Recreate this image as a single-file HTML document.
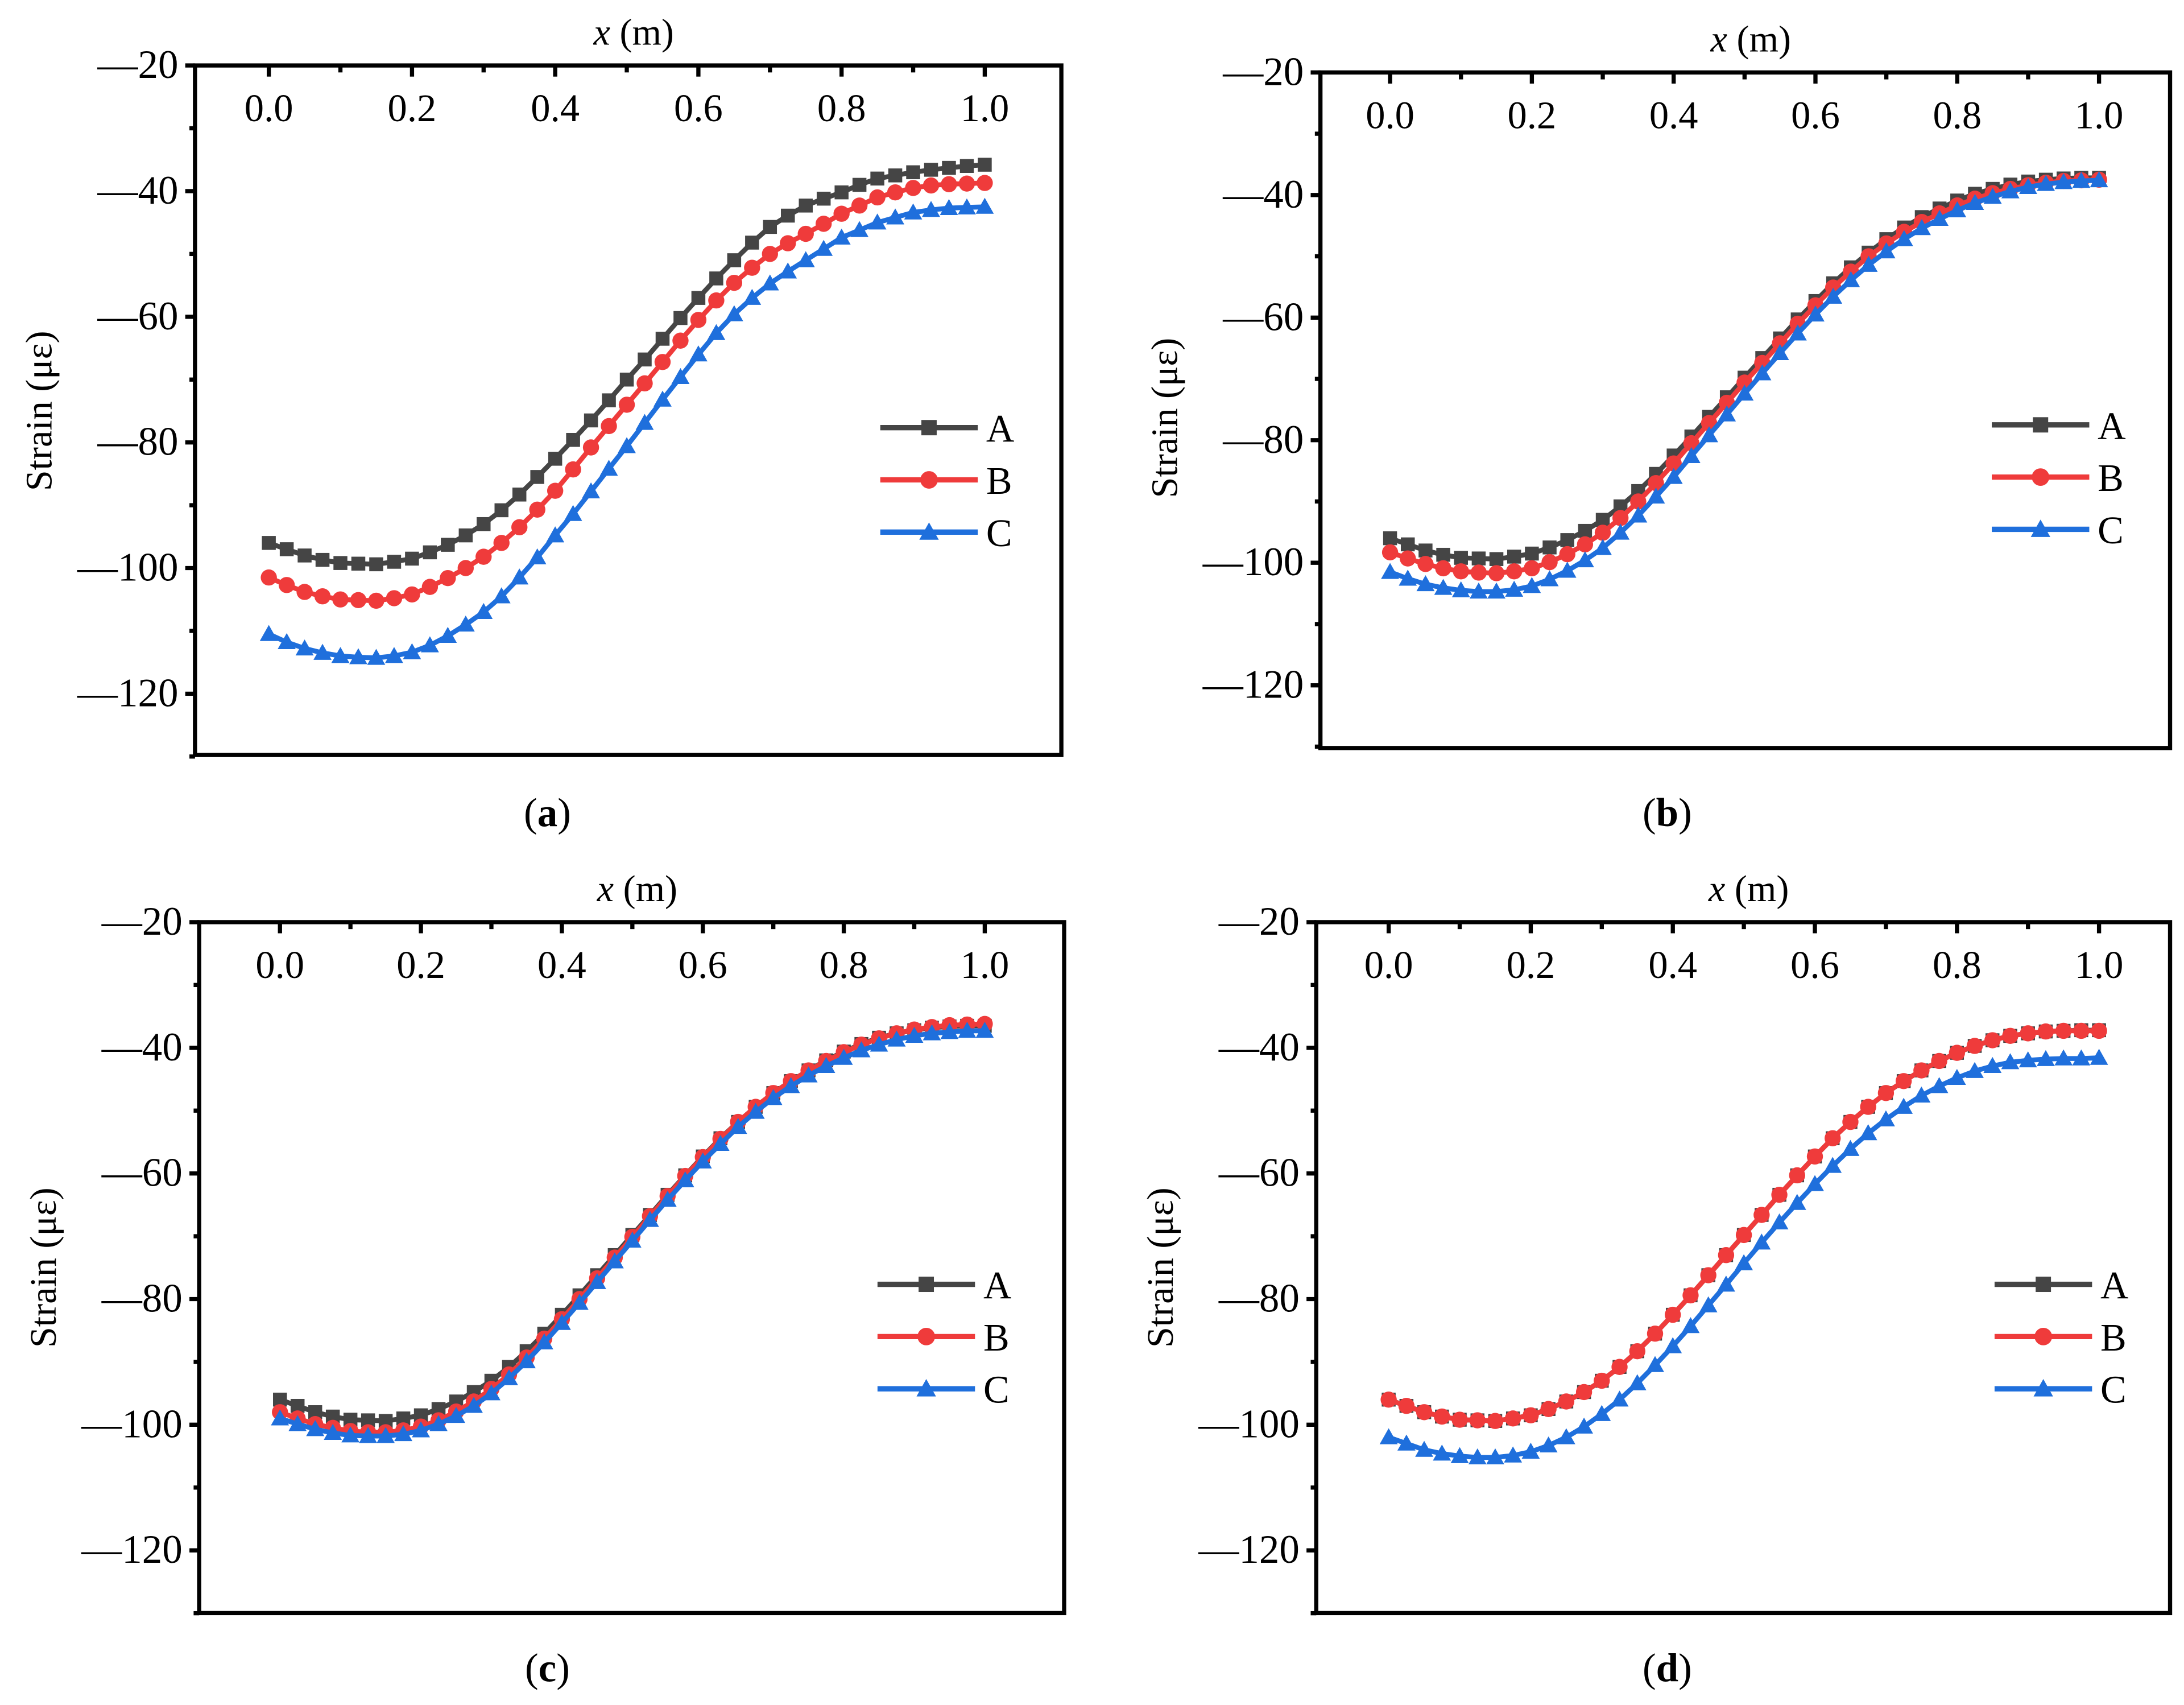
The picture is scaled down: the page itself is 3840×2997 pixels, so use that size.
<!DOCTYPE html>
<html><head><meta charset="utf-8"><style>
html,body{margin:0;padding:0;background:#fff}
svg{display:block}
text{font-family:"Liberation Serif",serif;fill:#000}
</style></head><body>
<svg id="fig" width="3840" height="2997" viewBox="0 0 1568 1224" preserveAspectRatio="none" xmlns="http://www.w3.org/2000/svg"></svg>
<script>
const xs = [0,0.025,0.05,0.075,0.1,0.125,0.15,0.175,0.2,0.225,0.25,0.275,0.3,0.325,0.35,0.375,0.4,0.425,0.45,0.475,0.5,0.525,0.55,0.575,0.6,0.625,0.65,0.675,0.7,0.725,0.75,0.775,0.8,0.825,0.85,0.875,0.9,0.925,0.95,0.975,1];
const yTicks = [-20,-40,-60,-80,-100,-120];
const xTicks = [0,0.2,0.4,0.6,0.8,1.0];
const seriesNames = ["A","B","C"];
const aA = [-96,-97,-98,-98.7,-99.2,-99.3,-99.4,-99,-98.5,-97.5,-96.3,-94.8,-93,-90.8,-88.3,-85.5,-82.6,-79.6,-76.5,-73.3,-70,-66.8,-63.5,-60.2,-57,-53.9,-51,-48.2,-45.7,-43.9,-42.3,-41.2,-40.2,-39,-38,-37.5,-37,-36.6,-36.3,-36,-35.8];
const aB = [-101.5,-102.7,-103.8,-104.5,-105,-105.1,-105.2,-104.8,-104.2,-103,-101.6,-100,-98.2,-96,-93.5,-90.7,-87.7,-84.3,-80.8,-77.4,-74,-70.6,-67.2,-63.8,-60.5,-57.4,-54.6,-52.2,-50,-48.3,-46.8,-45.2,-43.6,-42.3,-41,-40.2,-39.5,-39.1,-38.9,-38.8,-38.7];
const aC = [-110.5,-111.8,-112.8,-113.5,-114,-114.2,-114.3,-114,-113.4,-112.3,-110.8,-109,-107,-104.5,-101.5,-98.3,-94.8,-91.4,-87.8,-84.2,-80.6,-76.9,-73.2,-69.6,-66,-62.6,-59.6,-57,-54.7,-52.8,-51,-49.2,-47.4,-46.2,-45,-44.2,-43.4,-43,-42.7,-42.6,-42.5];
const bA = [-96,-97,-98,-98.7,-99.2,-99.3,-99.4,-99,-98.5,-97.5,-96.3,-94.8,-93,-90.8,-88.3,-85.5,-82.5,-79.4,-76.2,-73,-69.8,-66.6,-63.4,-60.3,-57.3,-54.4,-51.8,-49.4,-47.2,-45.3,-43.6,-42.2,-40.9,-39.8,-39,-38.3,-37.8,-37.5,-37.3,-37.2,-37.2];
const bB = [-98.3,-99.3,-100.2,-100.9,-101.4,-101.6,-101.7,-101.4,-100.9,-99.9,-98.6,-97,-95.1,-92.7,-90,-87,-83.8,-80.5,-77.2,-73.9,-70.6,-67.4,-64.2,-61,-58,-55.1,-52.5,-50,-47.9,-46,-44.4,-43,-41.7,-40.6,-39.7,-39,-38.4,-38,-37.7,-37.6,-37.5];
const bC = [-101.5,-102.6,-103.5,-104.1,-104.5,-104.7,-104.7,-104.4,-103.8,-102.7,-101.3,-99.6,-97.6,-95.1,-92.3,-89.2,-86,-82.6,-79.2,-75.8,-72.4,-69.1,-65.8,-62.6,-59.5,-56.6,-53.9,-51.4,-49.2,-47.2,-45.4,-43.9,-42.5,-41.3,-40.3,-39.4,-38.7,-38.2,-37.9,-37.7,-37.6];
const cA = [-96,-97,-98,-98.7,-99.2,-99.3,-99.4,-99,-98.5,-97.5,-96.3,-94.8,-93,-90.8,-88.3,-85.5,-82.5,-79.4,-76.2,-73,-69.8,-66.6,-63.4,-60.3,-57.3,-54.4,-51.8,-49.4,-47.2,-45.3,-43.6,-42,-40.6,-39.4,-38.4,-37.7,-37.2,-36.8,-36.6,-36.5,-36.5];
const cB = [-98,-99,-99.9,-100.5,-101,-101.2,-101.2,-100.9,-100.3,-99.3,-97.9,-96.3,-94.3,-92,-89.3,-86.3,-83.2,-80,-76.7,-73.4,-70.1,-66.8,-63.6,-60.4,-57.4,-54.5,-51.8,-49.4,-47.2,-45.3,-43.6,-42.1,-40.7,-39.5,-38.5,-37.7,-37.1,-36.7,-36.4,-36.3,-36.2];
const cC = [-99,-99.9,-100.7,-101.3,-101.7,-101.8,-101.8,-101.5,-100.9,-99.9,-98.6,-97,-95,-92.6,-89.9,-86.9,-83.8,-80.6,-77.3,-74,-70.7,-67.4,-64.2,-61.1,-58.1,-55.3,-52.6,-50.2,-48,-46.1,-44.4,-42.9,-41.6,-40.4,-39.5,-38.7,-38.1,-37.7,-37.5,-37.3,-37.3];
const dA = [-96,-97,-98,-98.7,-99.2,-99.3,-99.4,-99,-98.5,-97.5,-96.3,-94.8,-93,-90.8,-88.3,-85.5,-82.5,-79.4,-76.2,-73,-69.8,-66.6,-63.4,-60.3,-57.3,-54.4,-51.8,-49.4,-47.2,-45.3,-43.6,-42.1,-40.8,-39.7,-38.8,-38.1,-37.7,-37.4,-37.3,-37.2,-37.2];
const dB = [-96,-97,-98,-98.7,-99.2,-99.3,-99.4,-99,-98.5,-97.5,-96.3,-94.8,-93,-90.8,-88.3,-85.5,-82.5,-79.4,-76.2,-73,-69.8,-66.6,-63.4,-60.3,-57.3,-54.4,-51.8,-49.4,-47.2,-45.3,-43.6,-42.1,-40.8,-39.7,-38.8,-38.1,-37.7,-37.4,-37.3,-37.3,-37.3];
const dC = [-102,-103,-104,-104.6,-105,-105.2,-105.2,-104.9,-104.3,-103.3,-102,-100.3,-98.3,-96,-93.4,-90.5,-87.5,-84.3,-81,-77.7,-74.3,-71,-67.8,-64.7,-61.7,-58.8,-56.1,-53.6,-51.4,-49.4,-47.6,-46.1,-44.8,-43.7,-42.9,-42.3,-42,-41.8,-41.7,-41.7,-41.6];

const NS = "http://www.w3.org/2000/svg";
const svg = document.getElementById("fig");
const colors = ["#454545","#ef3b3b","#1f6fdc"];
function el(tag, attrs, parent){const e=document.createElementNS(NS,tag);for(const k in attrs)e.setAttribute(k,attrs[k]);(parent||svg).appendChild(e);return e;}

const panels = [
 {id:"a",L:140,R:762,T:47,B:542,x0:193,x1:707,y20:47,y120:498,leg:[632,307],cap:[393,583],data:[aA,aB,aC]},
 {id:"b",L:948,R:1558,T:52,B:537,x0:998,x1:1507,y20:52,y120:492,leg:[1430,305],cap:[1197,583],data:[bA,bB,bC]},
 {id:"c",L:143,R:764,T:662,B:1158,x0:201,x1:707,y20:662,y120:1113,leg:[630,922],cap:[393,1197],data:[cA,cB,cC]},
 {id:"d",L:945,R:1558,T:662,B:1158,x0:997,x1:1507,y20:662,y120:1113,leg:[1432,922],cap:[1197,1197],data:[dA,dB,dC]}
];

function marker(g,k,x,y,s){
  let m;
  if(k===0){m=el("rect",{x:x-s,y:y-s,width:2*s,height:2*s,fill:colors[0]},g);}
  else if(k===1){m=el("circle",{cx:x,cy:y,r:s+0.8,fill:colors[1]},g);}
  else {m=el("polygon",{points:`${x},${y-s-1.5} ${x-s-1.5},${y+s} ${x+s+1.5},${y+s}`,fill:colors[2]},g);}
  
  
}

panels.forEach(p=>{
  const g=el("g",{});
  
  
  const sx=v=>p.x0+(p.x1-p.x0)*v;
  const sy=v=>p.y20+(p.y120-p.y20)*(v+20)/(-100);
  const fr=el("rect",{x:p.L,y:p.T,width:p.R-p.L,height:p.B-p.T,fill:"none",stroke:"#000","stroke-width":3},g);
  
  
  for(let v=-20;v>=-130;v-=10){
    const major=(v%20===0);
    el("line",{x1:p.L-(major?7:4),x2:p.L,y1:sy(v),y2:sy(v),stroke:"#000","stroke-width":3},g);
  }
  yTicks.forEach(v=>{
    const t=el("text",{x:p.L-12,y:sy(v)+9,"text-anchor":"end","font-size":29},g);
    t.textContent="\u2014"+Math.abs(v);
    
    
  });
  for(let i=0;i<=10;i++){
    const v=i/10;const major=(i%2===0);
    el("line",{x1:sx(v),x2:sx(v),y1:p.T,y2:p.T+(major?8:5),stroke:"#000","stroke-width":3},g);
  }
  xTicks.forEach(v=>{
    const t=el("text",{x:sx(v),y:p.T+40,"text-anchor":"middle","font-size":28},g);
    t.textContent=v.toFixed(1);
    
    
  });
  const xt=el("text",{x:(p.L+p.R)/2+4,y:p.T-15,"text-anchor":"middle","font-size":27},g);
  xt.innerHTML='<tspan font-style="italic">x</tspan> (m)';
  
  
  const yt=el("text",{x:0,y:0,"text-anchor":"middle","font-size":27,transform:`translate(${p.L-103},${p.T+248}) rotate(-90)`},g);
  yt.textContent="Strain (\u03bc\u03b5)";
  
  
  const cap=el("text",{x:p.cap[0],y:p.cap[1]+10,"text-anchor":"middle","font-size":29},g);
  cap.innerHTML='(<tspan font-weight="bold">'+p.id+'</tspan>)';
  
  
  p.data.forEach((arr,k)=>{
    const sg=el("g",{},g);
    
    
    const pts=arr.map((v,i)=>sx(xs[i]).toFixed(1)+","+sy(v).toFixed(1)).join(" ");
    const pl=el("polyline",{points:pts,fill:"none",stroke:colors[k],"stroke-width":3.5},sg);
    
    
    arr.forEach((v,i)=>marker(sg,k,sx(xs[i]),sy(v),5));
  });
  seriesNames.forEach((n,k)=>{
    const lg=el("g",{},g);
    
    
    const y=p.leg[1]+k*37.5;
    el("line",{x1:p.leg[0],x2:p.leg[0]+70,y1:y,y2:y,stroke:colors[k],"stroke-width":3.8},lg);
    marker(lg,k,p.leg[0]+35,y,5.5);
    const t=el("text",{x:p.leg[0]+76,y:y+10,"font-size":28},lg);
    t.textContent=n;
  });
});
</script>
</body></html>
